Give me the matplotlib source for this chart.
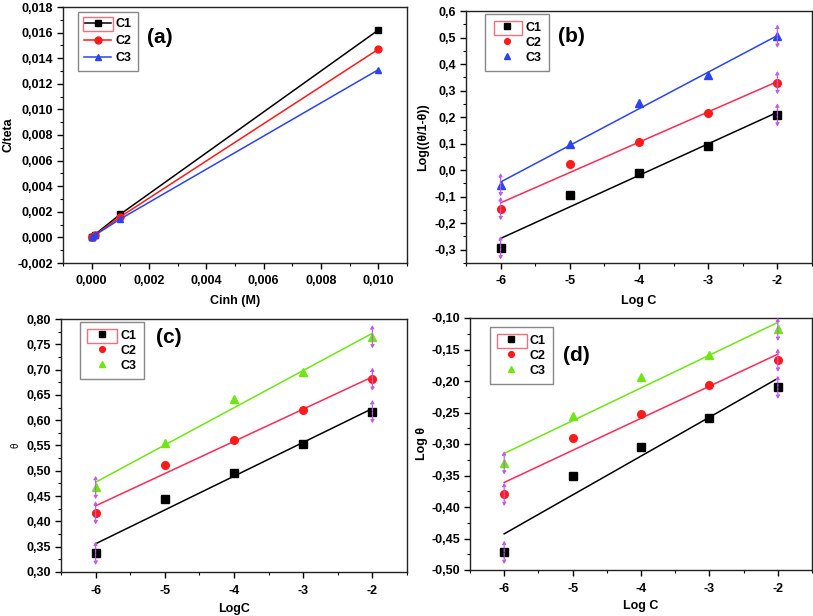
import numpy as np
import matplotlib
matplotlib.use("Agg")
import matplotlib.pyplot as plt
from matplotlib.ticker import MultipleLocator, FuncFormatter
from matplotlib.patches import Rectangle

plt.rcParams['font.family'] = ['Liberation Sans', 'DejaVu Sans']
plt.rcParams['font.weight'] = 'bold'

series = ["C1", "C2", "C3"]
cinh = [1e-6, 1e-5, 1e-4, 1e-3, 1e-2]
logc = [-6, -5, -4, -3, -2]

# (a) C/teta
a_c1 = [0.0000030, 0.0000225, 0.000202, 0.00181, 0.0162]
a_c2 = [0.0000024, 0.0000195, 0.000179, 0.00161, 0.0147]
a_c3 = [0.0000021, 0.0000180, 0.000156, 0.00144, 0.0131]

# (b) Log(theta/(1-theta))
b_c1 = [-0.293, -0.095, -0.010, 0.092, 0.208]
b_c2 = [-0.145, 0.022, 0.105, 0.215, 0.330]
b_c3 = [-0.055, 0.097, 0.253, 0.357, 0.505]

# (c) theta
c_c1 = [0.337, 0.445, 0.495, 0.553, 0.617]
c_c2 = [0.417, 0.512, 0.560, 0.621, 0.681]
c_c3 = [0.467, 0.555, 0.641, 0.695, 0.765]

# (d) Log theta
d_c1 = [-0.472, -0.351, -0.305, -0.258, -0.210]
d_c2 = [-0.380, -0.290, -0.252, -0.207, -0.167]
d_c3 = [-0.330, -0.255, -0.193, -0.159, -0.118]

BLACK = "#000000"
RED = "#ff1a1a"
REDLINE = "#ff2a55"
BLUE = "#2a44f0"
GREEN = "#6fe614"
PURPLE = "#c25cf0"
markers = ["s", "o", "^"]

fig = plt.figure(figsize=(8.13, 6.16), dpi=100)
W, H = 813, 616

def add_ax(l, r, t, b):
    return fig.add_axes([l / W, 1 - b / H, (r - l) / W, (b - t) / H])

axa = add_ax(63, 407, 7, 263)
axb = add_ax(466, 812, 11, 263)
axc = add_ax(61, 407, 319, 572)
axd = add_ax(470, 812, 318, 570)

def comma_fmt(dec):
    def f(v, pos):
        s = f"{v:.{dec}f}"
        if s.startswith("-") and float(s) == 0:
            s = s[1:]
        return s.replace(".", ",")
    return FuncFormatter(f)

def style(ax, xmaj, xmin, ymaj, ymin, xdec, ydec):
    ax.xaxis.set_major_locator(MultipleLocator(xmaj))
    ax.xaxis.set_minor_locator(MultipleLocator(xmin))
    ax.yaxis.set_major_locator(MultipleLocator(ymaj))
    ax.yaxis.set_minor_locator(MultipleLocator(ymin))
    ax.xaxis.set_major_formatter(comma_fmt(xdec))
    ax.yaxis.set_major_formatter(comma_fmt(ydec))
    ax.tick_params(which='major', direction='out', length=4, width=1,
                   labelsize=9, top=False, right=False)
    ax.tick_params(axis='x', which='major', pad=5)
    ax.tick_params(axis='y', which='major', pad=3)
    ax.tick_params(which='minor', direction='out', length=2, width=0.8,
                   top=False, right=False)
    for lab in ax.get_xticklabels() + ax.get_yticklabels():
        lab.set_fontweight('bold')
    for sp in ax.spines.values():
        sp.set_linewidth(1.0)
        sp.set_color('#222222')

# ---- (a)
for ys, col, m, lab in zip([a_c1, a_c2, a_c3], [BLACK, RED, BLUE], markers, series):
    axa.plot(cinh, ys, color=col, marker=m, markersize=5, lw=1.1, label=lab)
axa.set_xlim(-0.001, 0.011)
axa.set_ylim(-0.002, 0.018)
style(axa, 0.002, 0.001, 0.002, 0.001, 3, 3)
axa.set_xlabel("Cinh (M)", fontsize=9, fontweight='bold')
axa.set_ylabel("C/teta", fontsize=9, fontweight='bold')
axa.xaxis.set_label_coords(0.5, -0.125)
axa.yaxis.set_label_coords(-0.142, 0.5)
axa.text(0.282, 0.879, "(a)", transform=axa.transAxes, fontsize=15,
         fontweight='bold', ha='center', va='center')
lega = axa.legend(loc='upper left', bbox_to_anchor=(0.044, 0.98), borderaxespad=0,
                  handlelength=2.1, handletextpad=0.4, labelspacing=0.4,
                  borderpad=0.5, fancybox=False, edgecolor='#888888', framealpha=1,
                  prop={'weight': 'bold', 'size': 9})

# ---- fitted panels
def fit_panel(ax, datasets, colors, linecolors):
    x = np.array(logc, dtype=float)
    for ys, col, lc, m, lab in zip(datasets, colors, linecolors, markers, series):
        ys = np.array(ys)
        k, b0 = np.polyfit(x, ys, 1)
        xf = np.array([x[0], x[-1]])
        ax.plot(xf, k * xf + b0, color=lc, lw=1.1, zorder=2)
        ax.plot(x, ys, linestyle='none', marker=m, markersize=5.5, color=col,
                label=lab, zorder=3)
        for xi, yi in [(x[0], ys[0]), (x[-1], ys[-1])]:
            for dy in (8.6, -8.6):
                ax.annotate('', xy=(xi, yi), xytext=(0, dy), textcoords='offset points',
                            arrowprops=dict(arrowstyle='<|-', color=PURPLE, lw=0.9,
                                            ls=(0, (2, 1)), mutation_scale=5,
                                            shrinkA=0, shrinkB=0), zorder=4)
    ax.set_xlim(-6.5, -1.5)

fit_panel(axb, [b_c1, b_c2, b_c3], [BLACK, RED, BLUE], [BLACK, REDLINE, BLUE])
axb.set_ylim(-0.35, 0.6)
style(axb, 1, 0.5, 0.1, 0.05, 0, 1)
axb.set_xlabel("Log C", fontsize=9, fontweight='bold')
axb.set_ylabel("Log((θ/1-θ))", fontsize=9, fontweight='bold')
axb.xaxis.set_label_coords(0.5, -0.127)
axb.yaxis.set_label_coords(-0.106, 0.5)
axb.text(0.304, 0.90, "(b)", transform=axb.transAxes, fontsize=15,
         fontweight='bold', ha='center', va='center')

fit_panel(axc, [c_c1, c_c2, c_c3], [BLACK, RED, GREEN], [BLACK, REDLINE, GREEN])
axc.set_ylim(0.30, 0.80)
style(axc, 1, 0.5, 0.05, 0.025, 0, 2)
axc.set_xlabel("LogC", fontsize=9, fontweight='bold')
axc.set_ylabel("θ", fontsize=7, fontweight='normal')
axc.xaxis.set_label_coords(0.5, -0.1225)
axc.yaxis.set_label_coords(-0.116, 0.5)
axc.text(0.313, 0.925, "(c)", transform=axc.transAxes, fontsize=15,
         fontweight='bold', ha='center', va='center')

fit_panel(axd, [d_c1, d_c2, d_c3], [BLACK, RED, GREEN], [BLACK, REDLINE, GREEN])
axd.set_ylim(-0.50, -0.10)
style(axd, 1, 0.5, 0.05, 0.025, 0, 2)
axd.set_xlabel("Log C", fontsize=9, fontweight='bold')
axd.set_ylabel("Log θ", fontsize=9, fontweight='bold')
axd.xaxis.set_label_coords(0.5, -0.119)
axd.yaxis.set_label_coords(-0.123, 0.5)
axd.text(0.31, 0.853, "(d)", transform=axd.transAxes, fontsize=15,
         fontweight='bold', ha='center', va='center')

legs = [lega]
for ax, anchor in [(axb, (0.056, 0.988)), (axc, (0.056, 0.988)), (axd, (0.058, 0.964))]:
    lg = ax.legend(loc='upper left', bbox_to_anchor=anchor, borderaxespad=0,
                   handlelength=2.2, handletextpad=0.4, labelspacing=0.25,
                   markerscale=0.75, fancybox=False, edgecolor='#888888', framealpha=1,
                   prop={'weight': 'bold', 'size': 9}, borderpad=0.6)
    legs.append(lg)

# pink selection box around the first legend entry
fig.canvas.draw()
renderer = fig.canvas.get_renderer()
inv = fig.transFigure.inverted()
for lg, gap in zip(legs, [5, 9, 7, 7]):
    fb = lg.get_frame().get_window_extent(renderer)
    tb = lg.get_texts()[0].get_window_extent(renderer)
    x0, x1 = fb.x0 + gap, tb.x0 - 3
    y0, y1 = tb.y0 - 1, tb.y1 + 1
    (fx0, fy0) = inv.transform((x0, y0))
    (fx1, fy1) = inv.transform((x1, y1))
    fig.patches.append(Rectangle((fx0, fy0), fx1 - fx0, fy1 - fy0, transform=fig.transFigure,
                                 fill=False, edgecolor='#f07080', lw=1.0, zorder=10))

fig.savefig("out.png", dpi=100)
